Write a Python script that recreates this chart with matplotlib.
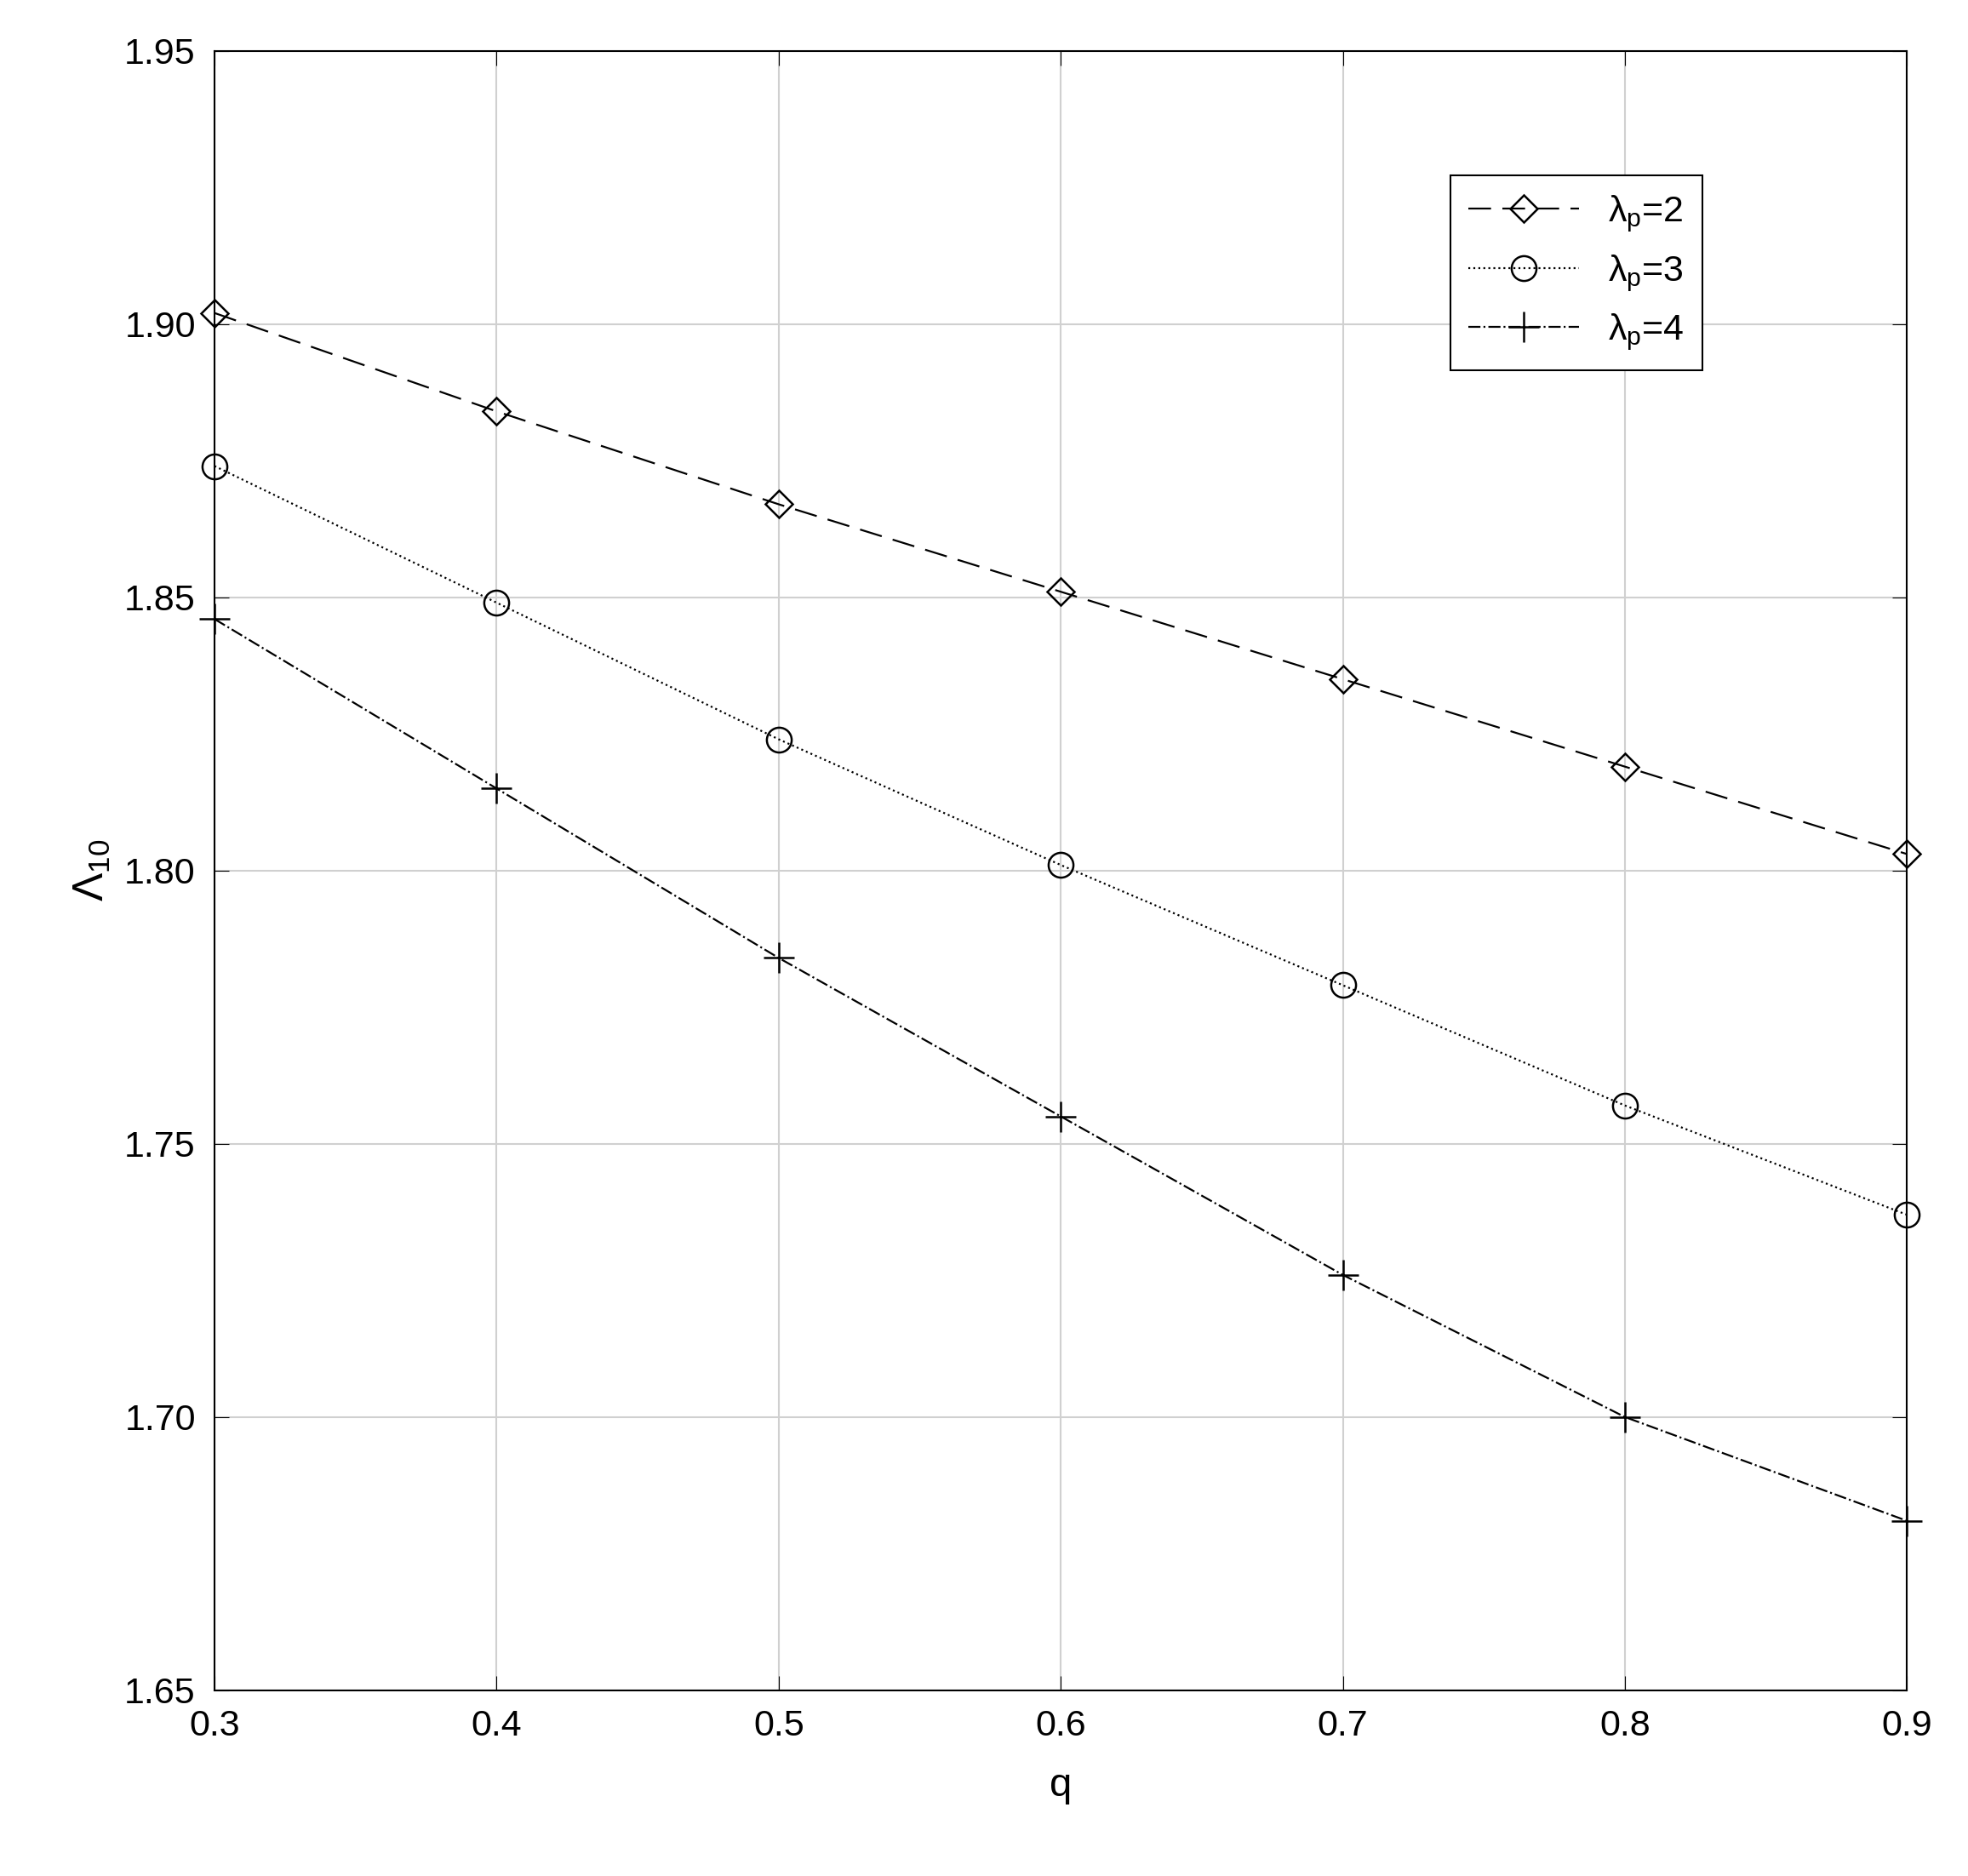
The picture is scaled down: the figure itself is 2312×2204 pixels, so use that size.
import numpy as np
import matplotlib.pyplot as plt

plt.rcParams["font.family"] = ["Liberation Sans", "DejaVu Sans"]
plt.rcParams["mathtext.fontset"] = "custom"
plt.rcParams["mathtext.rm"] = "Liberation Sans"
plt.rcParams["mathtext.it"] = "Liberation Sans"

q = [0.3, 0.4, 0.5, 0.6, 0.7, 0.8, 0.9]
lam2 = [1.902, 1.884, 1.867, 1.851, 1.835, 1.819, 1.803]
lam3 = [1.874, 1.849, 1.824, 1.801, 1.779, 1.757, 1.737]
lam4 = [1.846, 1.815, 1.784, 1.755, 1.726, 1.700, 1.681]

fig = plt.figure(figsize=(23.12, 22.04), dpi=100)
ax = fig.add_axes([0.109, 0.099, 0.860, 0.874])

kw = dict(color="black", lw=1.6, markerfacecolor="none", markeredgewidth=1.8, clip_on=False)
ax.plot(q, lam2, linestyle=(0, (12, 6)), marker="D", markersize=16, label=r"$\mathrm{\lambda_p}$=2", **kw)
ax.plot(q, lam3, linestyle=":", marker="o", markersize=21, label=r"$\mathrm{\lambda_p}$=3", **kw)
ax.plot(q, lam4, linestyle="-.", marker="+", markersize=26, label=r"$\mathrm{\lambda_p}$=4", **kw)

ax.set_xlim(0.3, 0.9)
ax.set_ylim(1.65, 1.95)
ax.set_xticks(q)
ax.set_yticks([1.65, 1.70, 1.75, 1.80, 1.85, 1.90, 1.95])
ax.set_yticklabels(["1.65", "1.70", "1.75", "1.80", "1.85", "1.90", "1.95"])
ax.grid(True, color="#d0d0d0", lw=1.5)
ax.tick_params(labelsize=31, direction="in", length=12, top=True, right=True, pad=16)
for s in ax.spines.values():
    s.set_linewidth(1.5)
ax.set_xlabel("q", fontsize=34, labelpad=20)
ax.set_ylabel(r"$\Lambda_{10}$", fontsize=36, labelpad=10)
leg = ax.legend(loc="upper right", bbox_to_anchor=(0.89, 0.935), fontsize=31, fancybox=False,
                edgecolor="black", framealpha=1, handlelength=3, borderpad=0.5)
leg.get_frame().set_linewidth(1.5)

fig.savefig("out.png", dpi=100)
